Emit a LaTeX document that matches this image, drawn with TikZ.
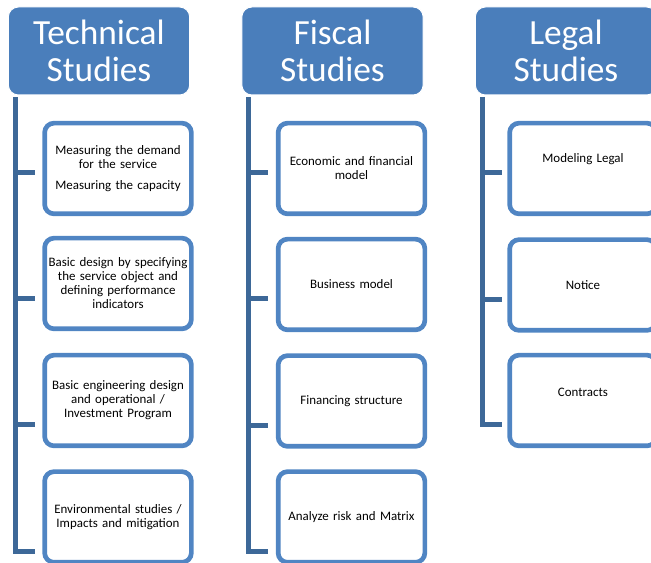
\documentclass[tikz,border=0pt]{standalone}
\usepackage{fontspec}
\setmainfont{Carlito}
\usepackage{xcolor}
\usetikzlibrary{positioning,calc}

\definecolor{headblue}{HTML}{4A7EBB}
\definecolor{boxblue}{HTML}{5085C3}
\definecolor{trunkblue}{HTML}{3D6898}

\begin{document}
\begin{tikzpicture}[
    x=0.75pt, y=-0.75pt,
    head/.style={rectangle, rounded corners=7.5pt, fill=headblue, draw=white, line width=0.75pt, minimum width=136pt, minimum height=66pt, text=white, align=center, inner sep=0pt, font=\fontsize{26.5}{28}\selectfont},
    item/.style={rectangle, rounded corners=7pt, draw=boxblue, line width=3.5pt, fill=white, minimum width=110pt, minimum height=68pt, text width=106pt, align=center, inner sep=0pt, font=\fontsize{9.7}{10.5}\selectfont},
    trunk/.style={draw=trunkblue, line width=3.75pt},
    raised/.style={text depth=#1},
]
\clip (0,0) rectangle (651,563);

% Headers
\node[head] (tech) at (99,51) {Technical\\Studies};
\node[head] (fisc) at (332.5,51) {Fiscal\\Studies};
\node[head] (legal) at (566,51) {Legal\\Studies};

% Technical studies
\node[item] (tb1) at (118,168.5) {Measuring the demand\\for the service\\[5pt]Measuring the capacity};
\node[item] (tb2) at (118,283.5) {Basic design by specifying\\the service object and\\defining performance\\indicators};
\node[item] (tb3) at (118,400.5) {Basic engineering design\\and operational /\\Investment Program};
\node[item] (tb4) at (118,517) {Environmental studies /\\Impacts and mitigation};

% Fiscal studies
\node[item] (fb1) at (351.5,168.5) {Economic and financial\\model};
\node[item] (fb2) at (351.5,284.5) {Business model};
\node[item] (fb3) at (351.5,401) {Financing structure};
\node[item] (fb4) at (351.5,517) {Analyze risk and Matrix};

% Legal studies
\node[item, raised=15pt] (lb1) at (583,168.5) {Modeling Legal};
\node[item] (lb2) at (583,285) {Notice};
\node[item, raised=13pt] (lb3) at (583,400.5) {Contracts};

% Tick ends
\coordinate (tt) at (15,97);
\coordinate (tk1) at (35,173);
\coordinate (tk2) at (35,299);
\coordinate (tk3) at (35,425);
\coordinate (tk4) at (35,552);
\coordinate (ft) at (248,97);
\coordinate (fk1) at (268,173);
\coordinate (fk2) at (268,299);
\coordinate (fk3) at (268,426);
\coordinate (fk4) at (268,552);
\coordinate (lt) at (482,97);
\coordinate (lk1) at (502,173);
\coordinate (lk2) at (502,300);
\coordinate (lk3) at (502,425);

% Connectors
\draw[trunk] (tt) |- (tk4);
\draw[trunk] (tk1 -| tt) -- (tk1);
\draw[trunk] (tk2 -| tt) -- (tk2);
\draw[trunk] (tk3 -| tt) -- (tk3);

\draw[trunk] (ft) |- (fk4);
\draw[trunk] (fk1 -| ft) -- (fk1);
\draw[trunk] (fk2 -| ft) -- (fk2);
\draw[trunk] (fk3 -| ft) -- (fk3);

\draw[trunk] (lt) |- (lk3);
\draw[trunk] (lk1 -| lt) -- (lk1);
\draw[trunk] (lk2 -| lt) -- (lk2);

\end{tikzpicture}
\end{document}
